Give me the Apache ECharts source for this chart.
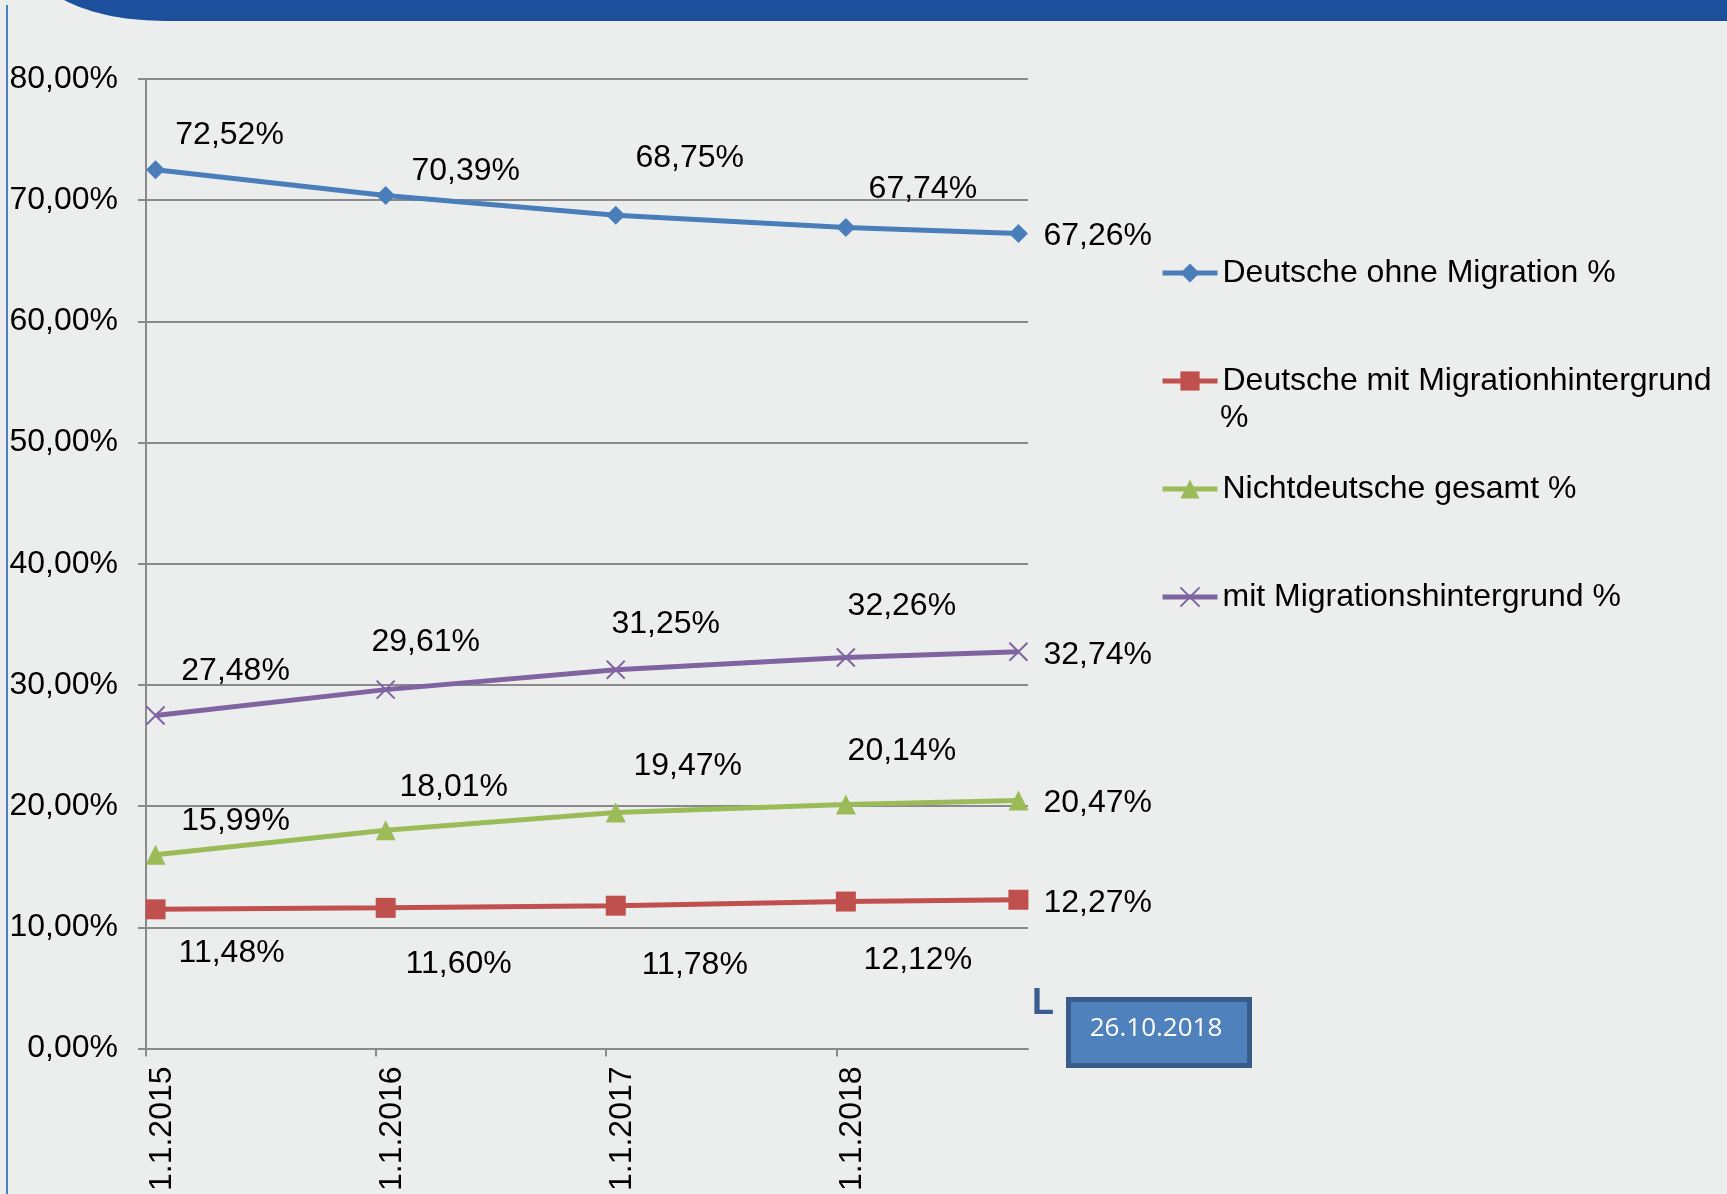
<!DOCTYPE html>
<html>
<head>
<meta charset="utf-8">
<script src="https://cdn.jsdelivr.net/npm/echarts@6/dist/echarts.min.js"></script>
<style>
  html, body { margin: 0; padding: 0; background: #eceeed; }
  #chart { width: 1727px; height: 1194px; }
</style>
</head>
<body>
<div id="chart"></div>
<script>
// Stichtage und Anteile
const dates = ['1.1.2015', '1.1.2016', '1.1.2017', '1.1.2018', '26.10.2018']
const tickLabels = ['1.1.2015', '1.1.2016', '1.1.2017', '1.1.2018']
const seriesNames = [
  'Deutsche ohne Migration %',
  'Deutsche mit Migrationhintergrund %',
  'Nichtdeutsche gesamt %',
  'mit Migrationshintergrund %'
]
const ohneMigration = [72.52, 70.39, 68.75, 67.74, 67.26]
const deutscheMitMigration = [11.48, 11.60, 11.78, 12.12, 12.27]
const nichtdeutsche = [15.99, 18.01, 19.47, 20.14, 20.47]
const mitMigration = [27.48, 29.61, 31.25, 32.26, 32.74]

const font = 'Liberation Sans, Arial, sans-serif'
const fontSize = 32
const colors = ['#4a7ebb', '#c0504d', '#9bbb59', '#8064a2']
const symbols = ['diamond', 'rect', 'triangle', 'path://M0,0L10,10M10,0L0,10']
const symbolSizes = [19, 20, 20, 18]

// Excel-Datumsachse mit Monatsbasis: Punkt liegt in der Mitte des Monats
function monthPos(d) {
  const [day, m, y] = d.split('.').map(Number)
  return (y - 2015) * 12 + (m - 1) + 0.5
}
const tickPos = tickLabels.map(d => monthPos(d) - 0.5)

// manuell verschobene Beschriftungen (px relativ zum Punkt)
const labelShift = [
  [[74, -37], [80, -27], [74, -60], [77, -41]],
  [[76, 41], [73, 53], [79, 56], [72, 56]],
  [[80, -36], [68, -46], [72, -49], [56, -56]],
  [[80, -47], [40, -50], [50, -49], [56, -54]]
]
const labelDy = 3

const fmt = v => v.toFixed(2).replace('.', ',') + '%'

// Kopfbalken mit runder Ecke links
const bannerPts = []
for (let t = 0; t <= 1.0001; t += 0.05) {
  const u = 1 - t
  bannerPts.push([
    u * u * u * 64 + 3 * u * u * t * 94 + 3 * u * t * t * 126 + t * t * t * 172,
    3 * u * u * t * 15 + 3 * u * t * t * 21 + t * t * t * 21
  ])
}
bannerPts.push([1727, 21], [1727, 0])

const chart = echarts.init(document.getElementById('chart'))

const series = [ohneMigration, deutscheMitMigration, nichtdeutsche, mitMigration].map((vals, s) => ({
  name: seriesNames[s],
  type: 'line',
  symbol: symbols[s],
  symbolSize: symbolSizes[s],
  showAllSymbol: true,
  color: colors[s],
  lineStyle: { width: 5, color: colors[s] },
  itemStyle: s === 3
    ? { color: colors[s], borderColor: colors[s], borderWidth: 2 }
    : { color: colors[s] },
  emphasis: { disabled: true },
  label: {
    show: true,
    position: 'inside',
    align: 'center',
    verticalAlign: 'middle',
    color: '#000',
    textBorderWidth: 0,
    fontSize: fontSize,
    fontFamily: font,
    formatter: p => fmt(p.value[1])
  },
  data: vals.map((v, i) => ({
    value: [monthPos(dates[i]), v],
    label: i < vals.length - 1
      ? { offset: [labelShift[s][i][0], labelShift[s][i][1] + labelDy] }
      : { align: 'left', offset: [25, labelDy] }
  }))
}))

const option = {
  backgroundColor: '#eceeed',
  animation: false,
  grid: { left: 146, top: 79, width: 882, height: 971 },
  xAxis: {
    type: 'value',
    min: 0,
    max: 46,
    splitLine: { show: false },
    axisLine: { lineStyle: { color: '#8a8a8a', width: 2 } },
    axisTick: { show: true, length: 8, customValues: tickPos, lineStyle: { color: '#8a8a8a', width: 2 } },
    axisLabel: {
      customValues: tickPos,
      rotate: 90,
      margin: 18,
      verticalAlign: 'top',
      color: '#000',
      fontSize: fontSize,
      fontFamily: font,
      formatter: v => tickLabels[tickPos.indexOf(v)] || ''
    }
  },
  yAxis: {
    type: 'value',
    min: 0,
    max: 80,
    interval: 10,
    axisLine: { show: true, lineStyle: { color: '#8a8a8a', width: 2 } },
    axisTick: { show: true, length: 8, lineStyle: { color: '#8a8a8a', width: 2 } },
    splitLine: { lineStyle: { color: '#8a8a8a', width: 2 } },
    axisLabel: {
      margin: 28,
      color: '#000',
      fontSize: fontSize,
      fontFamily: font,
      formatter: v => fmt(v)
    }
  },
  legend: {
    orient: 'vertical',
    left: 1160,
    top: 253,
    padding: 0,
    itemWidth: 55,
    itemHeight: 24,
    itemGap: 68,
    selectedMode: false,
    lineStyle: { width: 5 },
    textStyle: { fontSize: fontSize, fontFamily: font, color: '#000', lineHeight: 40 },
    formatter: n => n === seriesNames[1] ? n.replace(' %', '') : n,
    data: seriesNames
  },
  graphic: [
    {
      type: 'polygon',
      shape: { points: bannerPts },
      style: { fill: '#1c4f9c' }
    },
    {
      type: 'line',
      shape: { x1: 7, y1: 5, x2: 7, y2: 1194 },
      style: { stroke: '#4a7fc8', lineWidth: 2 }
    },
    {
      type: 'text',
      x: 1220,
      y: 418,
      style: { text: '%', fontSize: fontSize, fontFamily: font, fill: '#000', verticalAlign: 'middle' }
    },
    {
      type: 'rect',
      shape: { x: 1068.5, y: 999.5, width: 181, height: 66 },
      style: { fill: '#4f81bd', stroke: '#385d8a', lineWidth: 5 }
    },
    {
      type: 'text',
      x: 1156,
      y: 1029,
      style: {
        text: '26.10.2018', fontSize: 26, fontFamily: 'Open Sans, sans-serif',
        fill: '#fff', align: 'center', verticalAlign: 'middle'
      }
    },
    {
      type: 'text',
      x: 1032,
      y: 1004,
      style: {
        text: 'L', fontSize: 36, fontWeight: 'bold', fontFamily: font,
        fill: '#3b5e91', align: 'left', verticalAlign: 'middle'
      }
    }
  ],
  series: series
}

chart.setOption(option)
</script>
</body>
</html>
